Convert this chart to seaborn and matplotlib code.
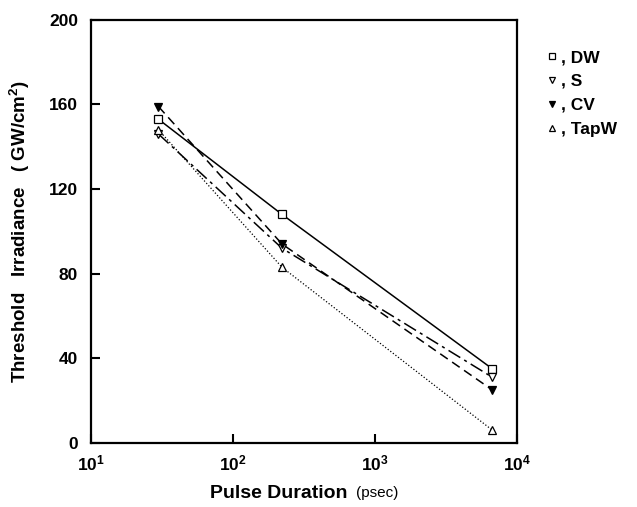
import numpy as np
import pandas as pd
import seaborn as sns

from matplotlib import pyplot as plt
from matplotlib.lines import Line2D
from matplotlib.ticker import FixedLocator, FixedFormatter, NullLocator

sns.set_style("white")
plt.rcParams['font.family'] = ['Liberation Sans', 'DejaVu Sans']
plt.rcParams['mathtext.fontset'] = 'custom'
plt.rcParams['mathtext.rm'] = 'Liberation Sans'
plt.rcParams['mathtext.bf'] = 'Liberation Sans:bold'
plt.rcParams['text.color'] = 'black'
plt.rcParams['axes.labelcolor'] = 'black'
plt.rcParams['xtick.color'] = 'black'
plt.rcParams['ytick.color'] = 'black'

# pulse durations (psec) and threshold irradiance (GW/cm^2)
pulse = [30, 222, 6700]
dw = [153, 108, 35]
s = [146, 92, 31]
cv = [159, 94, 25]
tapw = [148, 83, 6]

series_names = ["DW", "S", "CV", "TapW"]
x_ticks = [10, 100, 1000, 10000]
x_tick_labels = [r"$\mathbf{10^{1}}$", r"$\mathbf{10^{2}}$", r"$\mathbf{10^{3}}$", r"$\mathbf{10^{4}}$"]
y_ticks = [0, 40, 80, 120, 160, 200]

df = pd.DataFrame({
    "pulse": pulse * 4,
    "irr": dw + s + cv + tapw,
    "series": np.repeat(series_names, len(pulse)),
})

# line style / marker per series
styles = {
    "DW":   dict(linestyle="-", marker="s", mfc="white", ms=5.5, lw=1.1),
    "S":    dict(linestyle=(0, (9, 3, 2, 3)), marker="v", mfc="white", ms=6, lw=1.1),
    "CV":   dict(linestyle=(0, (6, 3.5)), marker="v", mfc="black", ms=6, lw=1.1),
    "TapW": dict(linestyle=(0, (1, 1.6)), marker="^", mfc="white", ms=6, lw=0.9),
}

fig = plt.figure(figsize=(6.37, 5.07), dpi=100)
ax = fig.add_axes([0.1424, 0.1268, 0.669, 0.834])

for name in series_names:
    st = styles[name]
    sub = df[df["series"] == name]
    sns.lineplot(data=sub, x="pulse", y="irr", ax=ax, color="black",
                 linestyle=st["linestyle"], marker=st["marker"], markersize=st["ms"],
                 markerfacecolor=st["mfc"], markeredgecolor="black", markeredgewidth=0.9,
                 linewidth=st["lw"], legend=False)

ax.set_xscale("log")
ax.set_xlim(10, 10000)
ax.set_ylim(0, 200)
ax.xaxis.set_major_locator(FixedLocator(x_ticks))
ax.xaxis.set_major_formatter(FixedFormatter(x_tick_labels))
ax.xaxis.set_minor_locator(NullLocator())
ax.set_yticks(y_ticks)
ax.set_yticklabels([str(v) for v in y_ticks], fontweight="bold")
ax.tick_params(axis="both", direction="in", length=6.5, width=1.5, labelsize=12.5)
ax.tick_params(axis="x", pad=8)
ax.tick_params(axis="y", pad=9)
ax.tick_params(axis="y", left=True, right=False)
ax.tick_params(axis="x", bottom=True, top=False)
for sp in ax.spines.values():
    sp.set_linewidth(1.6)
    sp.set_color("black")

ax.set_xlabel("")
ax.set_ylabel(r"Threshold   Irradiance   ( GW/cm$^\mathbf{2}$)", fontsize=13.5,
              fontweight="bold", labelpad=12)

fig.text(353 / 637, 1 - 493 / 507, "Pulse Duration ", ha="right", va="center",
         fontsize=14, fontweight="bold")
fig.text(356 / 637, 1 - 493 / 507, "(psec)", ha="left", va="center", fontsize=11)

# legend outside to the right
handles = [Line2D([], [], linestyle="none", marker=styles[n]["marker"], color="black",
                  markerfacecolor=styles[n]["mfc"], markersize=4.5, markeredgewidth=0.9)
           for n in series_names]
labels = [", " + n for n in series_names]
fig.legend(handles, labels, loc="upper left", bbox_to_anchor=(540 / 637, 1 - 43 / 507),
           frameon=False, handlelength=0.6, handletextpad=0.2, labelspacing=0.5,
           prop=dict(weight="bold", size=12.5), borderaxespad=0)

fig.savefig("out.png", dpi=100)
